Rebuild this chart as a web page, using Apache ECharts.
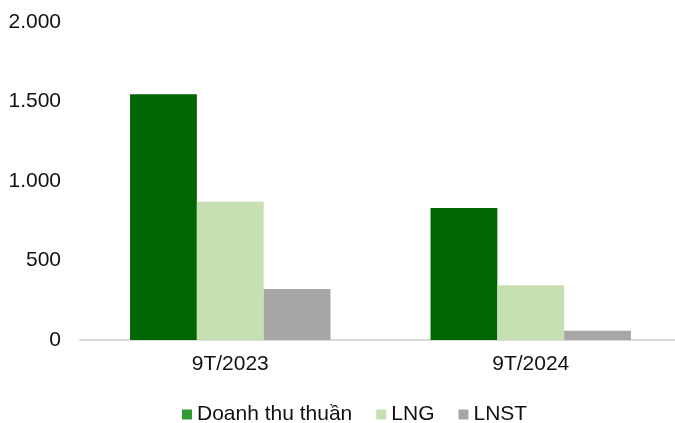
<!DOCTYPE html>
<html>
<head>
<meta charset="utf-8">
<script src="https://cdn.jsdelivr.net/npm/echarts@6/dist/echarts.min.js"></script>
<style>
  html, body { margin: 0; padding: 0; background: #fff; }
  #chart { width: 675px; height: 423px; }
</style>
</head>
<body>
<div id="chart"></div>
<script>
// Periods on the category axis
const categories = ['9T/2023', '9T/2024'];

// Series values (tỷ đồng)
const doanhThuThuan = [1545, 830];
const lng = [870, 345];
const lnst = [320, 58];

// Value axis ticks
const yTicks = [0, 500, 1000, 1500, 2000];

const FONT = '"Liberation Sans", Arial, sans-serif';

function formatThousands(v) {
  return String(v).replace(/\B(?=(\d{3})+(?!\d))/g, '.');
}

const chart = echarts.init(document.getElementById('chart'), null, { renderer: 'canvas' });

chart.setOption({
  animation: false,
  backgroundColor: '#ffffff',
  textStyle: { fontFamily: FONT },
  // plot area runs slightly past the right edge of the canvas
  grid: {
    left: 80, width: 601, top: 22, height: 318,
    containLabel: false,
    outerBoundsMode: 'none'
  },
  legend: {
    left: 177,
    top: 399,
    itemWidth: 10,
    itemHeight: 10,
    itemGap: 24,
    icon: 'rect',
    textStyle: { fontFamily: FONT, fontSize: 21, color: '#111' },
    data: [
      { name: 'Doanh thu thuần', itemStyle: { color: '#339933' } },
      { name: 'LNG', itemStyle: { color: '#c6e0b4' } },
      { name: 'LNST', itemStyle: { color: '#a6a6a6' } }
    ]
  },
  xAxis: {
    type: 'category',
    data: categories,
    axisLine: { show: true, lineStyle: { color: '#d9d9d9', width: 2 } },
    axisTick: { show: false },
    axisLabel: { margin: 14, fontFamily: FONT, fontSize: 21, color: '#111' }
  },
  yAxis: {
    type: 'value',
    min: yTicks[0],
    max: yTicks[yTicks.length - 1],
    interval: yTicks[1] - yTicks[0],
    axisLine: { show: false },
    axisTick: { show: false },
    splitLine: { show: false },
    axisLabel: {
      margin: 19,
      fontFamily: FONT,
      fontSize: 21,
      color: '#111',
      formatter: formatThousands
    }
  },
  series: [
    {
      name: 'Doanh thu thuần',
      type: 'bar',
      data: doanhThuThuan,
      barGap: '0%',
      barCategoryGap: '33.3%',
      itemStyle: { color: '#006600' }
    },
    {
      name: 'LNG',
      type: 'bar',
      data: lng,
      barGap: '0%',
      barCategoryGap: '33.3%',
      itemStyle: { color: '#c6e0b4' }
    },
    {
      name: 'LNST',
      type: 'bar',
      data: lnst,
      barGap: '0%',
      barCategoryGap: '33.3%',
      itemStyle: { color: '#a6a6a6' }
    }
  ]
});
</script>
</body>
</html>
